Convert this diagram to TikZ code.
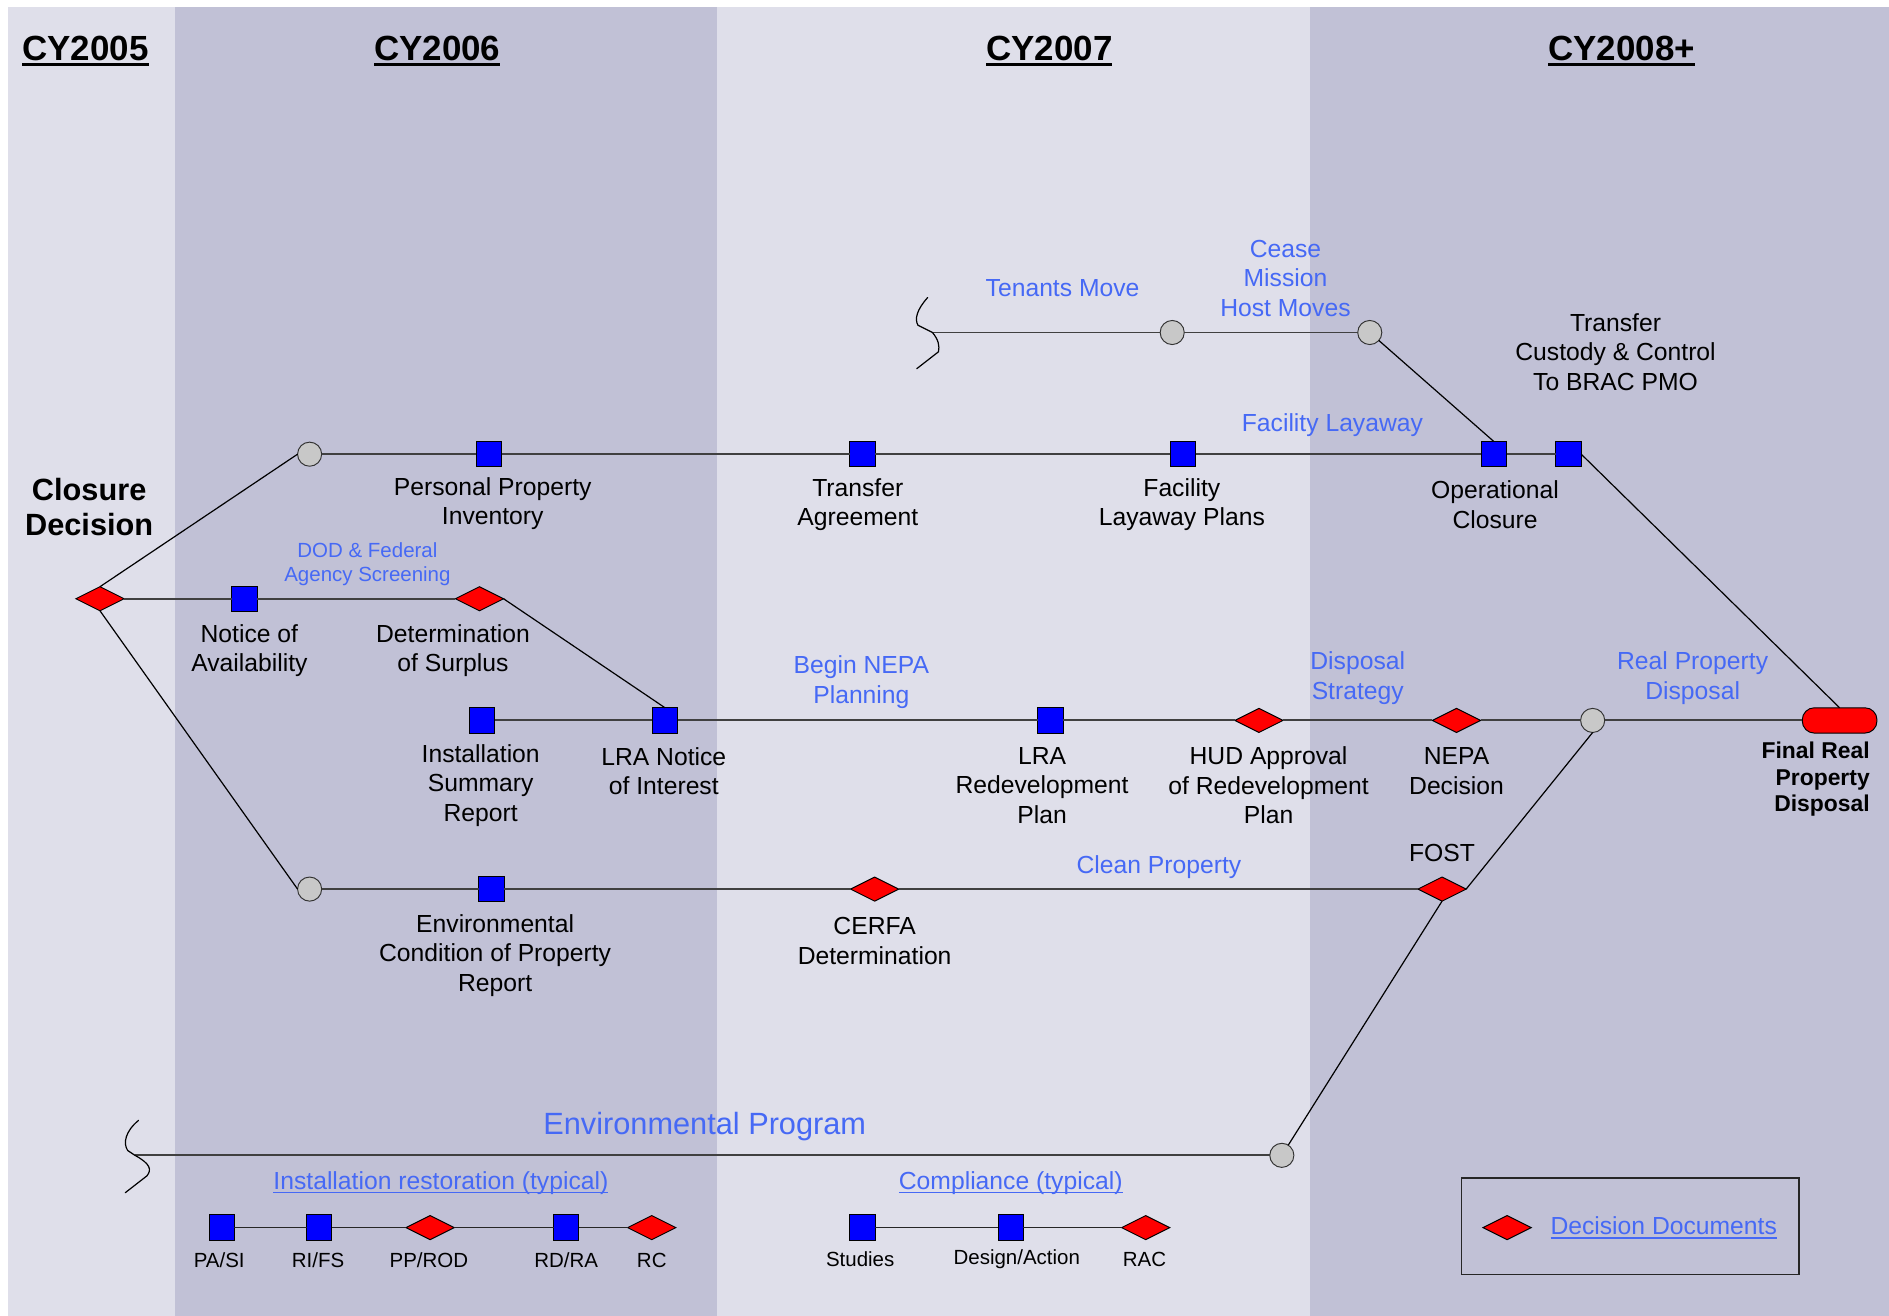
\documentclass[tikz,border=0pt]{standalone}
\usepackage{fontspec}
\setmainfont{Liberation Sans}
\usetikzlibrary{shapes.geometric}

\definecolor{bandlight}{RGB}{223,223,234}
\definecolor{banddark}{RGB}{193,193,214}
\definecolor{linkblue}{RGB}{70,105,245}
\definecolor{stepgray}{RGB}{200,200,200}

% underline drawn as a rule that scales with the current font
\newcommand\ulin[1]{\setbox0\hbox{#1}\rlap{\rule[-0.16em]{\wd0}{0.065em}}\box0}

\begin{document}
\begin{tikzpicture}[x=1pt,y=-1pt,
  every node/.style={inner sep=0pt, outer sep=0pt},
  lab/.style={align=center, font=\fontsize{20.5}{24.5}\selectfont, text=black},
  note/.style={align=center, font=\fontsize{20.5}{24.5}\selectfont, text=linkblue},
  smallnote/.style={align=center, font=\fontsize{17}{20}\selectfont, text=linkblue},
  keylab/.style={font=\fontsize{17}{20}\selectfont, text=black},
  head/.style={font=\fontsize{29}{34}\selectfont\bfseries, text=black},
  stepsq/.style={rectangle, draw=black, line width=0.8pt, fill=blue,
    minimum width=21pt, minimum height=21pt},
  decdm/.style={diamond, draw=black, line width=0.8pt, fill=red, aspect=2,
    minimum width=40pt, minimum height=20pt},
  milecir/.style={circle, draw=black!80, line width=0.8pt, fill=stepgray,
    minimum size=20pt},
  finoval/.style={rectangle, rounded corners=10pt, draw=black, line width=0.8pt,
    fill=red, minimum width=62pt, minimum height=21pt},
  flow/.style={draw=black!75, line width=1.6pt},
  slant/.style={draw=black, line width=1pt},
  keyflow/.style={draw=black!85, line width=1.2pt},
  wave/.style={draw=black, line width=1pt, line cap=round, line join=round}
]
\useasboundingbox (0,0) rectangle (1568,1092);

% ---- year bands ----
\fill[white] (0,0) rectangle (1568,1092);
\fill[bandlight] (7,6) rectangle (145,1092);
\fill[banddark] (145,6) rectangle (595,1092);
\fill[bandlight] (595,6) rectangle (1087,1092);
\fill[banddark] (1087,6) rectangle (1568,1092);

\node[head] (h05) at (71,42) {\ulin{CY2005}};
\node[head] (h06) at (363,42) {\ulin{CY2006}};
\node[head] (h07) at (871,42) {\ulin{CY2007}};
\node[head] (h08) at (1346,42) {\ulin{CY2008+}};

% ---- milestones ----
% facilities track
\node[milecir] (c1) at (257,377) {};
\node[stepsq] (ppi) at (406,377) {};
\node[stepsq] (ta) at (716,377) {};
\node[stepsq] (flp) at (982,377) {};
\node[stepsq] (opc) at (1240,377) {};
\node[stepsq] (tcc) at (1302,377) {};

% tenants track
\coordinate (br1) at (774,276);
\node[milecir] (tm) at (973,276) {};
\node[milecir] (cm) at (1137,276) {};

% closure / screening track
\node[decdm] (cd) at (83,497) {};
\node[stepsq] (noa) at (203,497) {};
\node[decdm] (dos) at (398,497) {};

% reuse / NEPA track
\node[stepsq] (isr) at (400,598) {};
\node[stepsq] (lnoi) at (552,598) {};
\node[stepsq] (lrp) at (872,598) {};
\node[decdm] (hud) at (1045,598) {};
\node[decdm] (nepa) at (1209,598) {};
\node[milecir] (rpd) at (1322,598) {};
\node[finoval] (frpd) at (1527,598) {};

% environmental condition track
\node[milecir] (c2) at (257,738) {};
\node[stepsq] (ecp) at (408,738) {};
\node[decdm] (cerfa) at (726,738) {};
\node[decdm] (fost) at (1197,738) {};

% environmental program track
\coordinate (br2) at (112,959);
\node[milecir] (envp) at (1064,959) {};

% ---- connectors ----
\draw[flow] (c1) -- (ppi);
\draw[flow] (ppi) -- (ta);
\draw[flow] (ta) -- (flp);
\draw[flow] (flp) -- (opc);
\draw[flow] (opc) -- (tcc);
\draw[slant] (tcc.east) -- (frpd.north);

\draw[flow] (br1) -- (tm);
\draw[flow] (tm) -- (cm);
\draw[slant] (cm) -- (opc.north);

\draw[slant] (cd.north) -- (c1.west);
\draw[slant] (cd.south) -- (c2.west);
\draw[flow] (cd) -- (noa);
\draw[flow] (noa) -- (dos);
\draw[slant] (dos.east) -- (lnoi.north);

\draw[flow] (isr) -- (lnoi);
\draw[flow] (lnoi) -- (lrp);
\draw[flow] (lrp) -- (hud);
\draw[flow] (hud) -- (nepa);
\draw[flow] (nepa) -- (rpd);
\draw[flow] (rpd) -- (frpd);

\draw[flow] (c2) -- (ecp);
\draw[flow] (ecp) -- (cerfa);
\draw[flow] (cerfa) -- (fost);
\draw[slant] (fost.east) -- (rpd.south);

\draw[flow] (br2) -- (envp);
\draw[slant] (envp) -- (fost.south);

% break marks at the open ends of the tenants and program tracks
\draw[wave] (770,247) .. controls (761,257) and (759,265) .. (762,270)
  -- (br1) .. controls (779,282) and (780,287) .. (779,292) -- (761,306);
\draw[wave] (115,930) .. controls (104,939) and (102,949) .. (106,955)
  -- (br2) .. controls (125,966) and (126,971) .. (122,976) -- (104,990);

% ---- labels ----
\node[align=center, font=\fontsize{25.5}{29}\selectfont\bfseries] (cdl) at (74,421) {Closure\\Decision};

\node[lab] (ppil) at (409,418) {Personal Property\\Inventory};
\node[lab] (tal) at (712,419) {Transfer\\Agreement};
\node[lab] (flpl) at (981,419) {Facility\\Layaway Plans};
\node[lab] (opcl) at (1241,419) {Operational\\Closure};
\node[lab] (tccl) at (1341,292) {Transfer\\Custody \& Control\\To BRAC PMO};
\node[note] (fla) at (1106,353) {Facility Layaway};
\node[note] (tml) at (882,239) {Tenants Move};
\node[note] (cml) at (1067,231) {Cease\\Mission\\Host Moves};

\node[smallnote] (dodl) at (305,468) {DOD \& Federal\\Agency Screening};
\node[lab] (noal) at (207,540) {Notice of\\Availability};
\node[lab] (dosl) at (376,540) {Determination\\of Surplus};

\node[lab] (isrl) at (399,652) {Installation\\Summary\\Report};
\node[lab] (lnoil) at (551,640) {LRA Notice\\of Interest};
\node[note] (bnp) at (715,566) {Begin NEPA\\Planning};
\node[lab] (lrpl) at (865,652) {LRA\\Redevelopment\\Plan};
\node[lab] (hudl) at (1053,652) {HUD Approval\\of Redevelopment\\Plan};
\node[note] (dsl) at (1127,563) {Disposal\\Strategy};
\node[lab] (nepal) at (1209,640) {NEPA\\Decision};
\node[note] (rpdl) at (1405,563) {Real Property\\Disposal};
\node[align=right, anchor=east, font=\fontsize{19}{22}\selectfont\bfseries] (frpdl) at (1552,647) {Final Real\\Property\\Disposal};

\node[lab] (fostl) at (1197,708) {FOST};
\node[note] (cpl) at (962,720) {Clean Property};
\node[lab] (ecpl) at (411,793) {Environmental\\Condition of Property\\Report};
\node[lab] (cerfal) at (726,781) {CERFA\\Determination};

\node[align=center, font=\fontsize{25.5}{30}\selectfont, text=linkblue] (envpl) at (585,935) {Environmental Program};

% ---- typical sequences ----
\node[note] (irt) at (366,982) {\ulin{Installation restoration (typical)}};
\node[stepsq] (pasi) at (184,1019) {};
\node[stepsq] (rifs) at (265,1019) {};
\node[decdm] (pprod) at (357,1019) {};
\node[stepsq] (rdra) at (470,1019) {};
\node[decdm] (rc) at (541,1019) {};
\draw[keyflow] (pasi) -- (rifs);
\draw[keyflow] (rifs) -- (pprod);
\draw[keyflow] (pprod) -- (rdra);
\draw[keyflow] (rdra) -- (rc);
\node[keylab] (pasil) at (182,1046) {PA/SI};
\node[keylab] (rifsl) at (264,1046) {RI/FS};
\node[keylab] (pprodl) at (356,1046) {PP/ROD};
\node[keylab] (rdral) at (470,1046) {RD/RA};
\node[keylab] (rcl) at (541,1046) {RC};

\node[note] (cpt) at (839,982) {\ulin{Compliance (typical)}};
\node[stepsq] (stud) at (716,1019) {};
\node[stepsq] (desact) at (839,1019) {};
\node[decdm] (rac) at (951,1019) {};
\draw[keyflow] (stud) -- (desact);
\draw[keyflow] (desact) -- (rac);
\node[keylab] (studl) at (714,1045) {Studies};
\node[keylab] (desactl) at (844,1045) {Design/Action};
\node[keylab] (racl) at (950,1045) {RAC};

% ---- key ----
\node[draw=black!85, line width=1.4pt, minimum width=280pt, minimum height=80pt] (keybox) at (1353,1018) {};
\node[decdm] (keydm) at (1251,1019) {};
\node[note] (keyl) at (1381,1019) {\ulin{Decision Documents}};

\end{tikzpicture}
\end{document}
